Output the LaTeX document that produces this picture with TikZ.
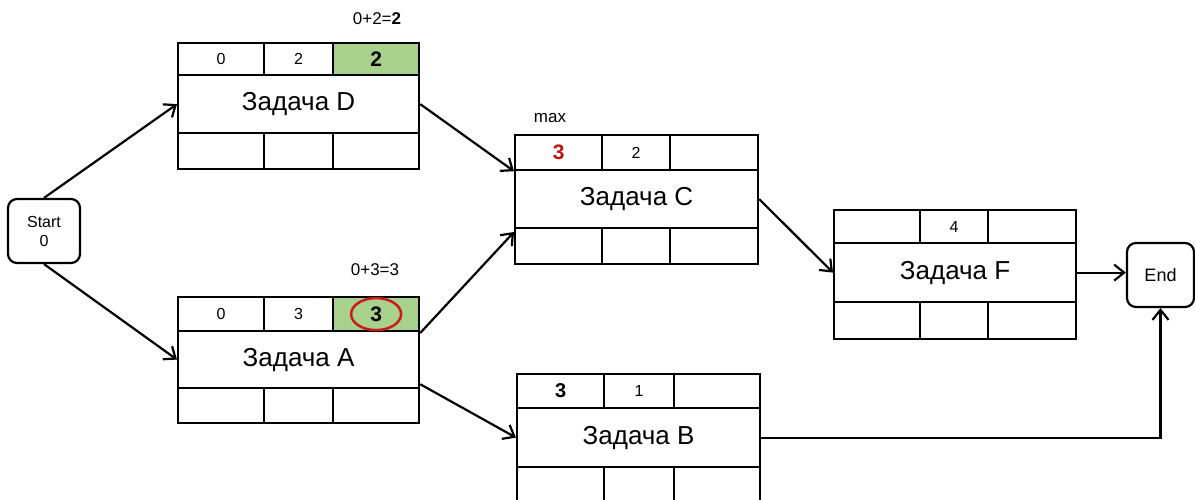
\documentclass[tikz,border=0pt]{standalone}
\usepackage{fontspec}
\setmainfont{Liberation Sans}
\usetikzlibrary{arrows.meta,shapes.geometric}
\definecolor{cellgreen}{RGB}{169,209,142}
\definecolor{ringred}{RGB}{205,25,25}
\definecolor{numred}{RGB}{190,20,20}
\newcommand{\fs}[1]{\fontsize{#1}{#1}\selectfont}
\begin{document}
\begin{tikzpicture}[x=1pt,y=-1pt,
  cell/.style={draw, line width=2.2pt, inner sep=0pt, anchor=north west, font=\fs{16}},
  namecell/.style={cell, font=\fs{26}},
  early/.style={cell, fill=cellgreen, font=\fs{21}\bfseries},
  term/.style={draw, line width=2.2pt, rounded corners=9pt, inner sep=0pt, align=center, font=\fontsize{16}{19}\selectfont},
  note/.style={inner sep=0pt, font=\fs{17}},
  link/.style={line width=2.2pt, -{Straight Barb[length=10pt,width=16pt,line width=2.2pt]}}]
\useasboundingbox (0,0) rectangle (1195,499);
\clip (0,0) rectangle (1195,499);

% Start / End
\node[term, minimum width=72, minimum height=64] (start) at (44,231) {Start\\0};
\node[term, minimum width=67, minimum height=64, font=\fs{18}] (end) at (1160.5,275) {End};

% Task D
\node[cell, minimum width=86, minimum height=32] (D1) at (177,42) {0};
\node[cell, minimum width=69, minimum height=32] (D2) at (263,42) {2};
\node[early, minimum width=86, minimum height=32] (D3) at (332,42) {2};
\node[namecell, minimum width=241, minimum height=58] (Dm) at (177,74) {Задача D};
\node[cell, minimum width=86, minimum height=36] (Db1) at (177,132) {};
\node[cell, minimum width=69, minimum height=36] (Db2) at (263,132) {};
\node[cell, minimum width=86, minimum height=36] (Db3) at (332,132) {};
\node[note] (lblD) at (377,19) {0+2=\textbf{2}};

% Task A
\node[cell, minimum width=86, minimum height=34] (A1) at (177,296) {0};
\node[cell, minimum width=69, minimum height=34] (A2) at (263,296) {3};
\node[early, minimum width=86, minimum height=34] (A3) at (332,296) {3};
\node[namecell, minimum width=241, minimum height=57] (Am) at (177,330) {Задача A};
\node[cell, minimum width=86, minimum height=35] (Ab1) at (177,387) {};
\node[cell, minimum width=69, minimum height=35] (Ab2) at (263,387) {};
\node[cell, minimum width=86, minimum height=35] (Ab3) at (332,387) {};
\node[note] (lblA) at (375,270) {0+3=3};
\node[ellipse, draw=ringred, line width=2.5pt, minimum width=50, minimum height=32, inner sep=0pt] (ring) at (A3.center) {};

% Task C
\node[cell, minimum width=87, minimum height=35, text=numred, font=\fs{21}\bfseries] (C1) at (514,134) {3};
\node[cell, minimum width=68, minimum height=35] (C2) at (601,134) {2};
\node[cell, minimum width=88, minimum height=35] (C3) at (669,134) {};
\node[namecell, minimum width=243, minimum height=58] (Cm) at (514,169) {Задача C};
\node[cell, minimum width=87, minimum height=36] (Cb1) at (514,227) {};
\node[cell, minimum width=68, minimum height=36] (Cb2) at (601,227) {};
\node[cell, minimum width=88, minimum height=36] (Cb3) at (669,227) {};
\node[note] (lblC) at (550,118) {max};

% Task F
\node[cell, minimum width=86, minimum height=33] (F1) at (833,209) {};
\node[cell, minimum width=68, minimum height=33] (F2) at (919,209) {4};
\node[cell, minimum width=88, minimum height=33] (F3) at (987,209) {};
\node[namecell, minimum width=242, minimum height=59] (Fm) at (833,242) {Задача F};
\node[cell, minimum width=86, minimum height=37] (Fb1) at (833,301) {};
\node[cell, minimum width=68, minimum height=37] (Fb2) at (919,301) {};
\node[cell, minimum width=88, minimum height=37] (Fb3) at (987,301) {};

% Task B
\node[cell, minimum width=87, minimum height=34, font=\fs{20}\bfseries] (B1) at (516,373) {3};
\node[cell, minimum width=70, minimum height=34] (B2) at (603,373) {1};
\node[cell, minimum width=86, minimum height=34] (B3) at (673,373) {};
\node[namecell, minimum width=243, minimum height=59] (Bm) at (516,407) {Задача B};
\node[cell, minimum width=87, minimum height=64] (Bb1) at (516,466) {};
\node[cell, minimum width=70, minimum height=64] (Bb2) at (603,466) {};
\node[cell, minimum width=86, minimum height=64] (Bb3) at (673,466) {};

% Dependencies
\draw[link] (start.north) -- (Dm.west);
\draw[link] (start.south) -- (Am.west);
\draw[link] (Dm.east) -- (C1.south west);
\draw[link] ([yshift=-3pt]Am.north east) -- ([yshift=-5pt]Cb1.north west);
\draw[link] ([yshift=5pt]Am.south east) -- (Bm.west);
\draw[link] (Cm.east) -- (Fm.west);
\draw[link] (Fm.east) -- (Fm.east -| end.west);
\draw[link] (Bm.east) -| (end.south);
\end{tikzpicture}
\end{document}
